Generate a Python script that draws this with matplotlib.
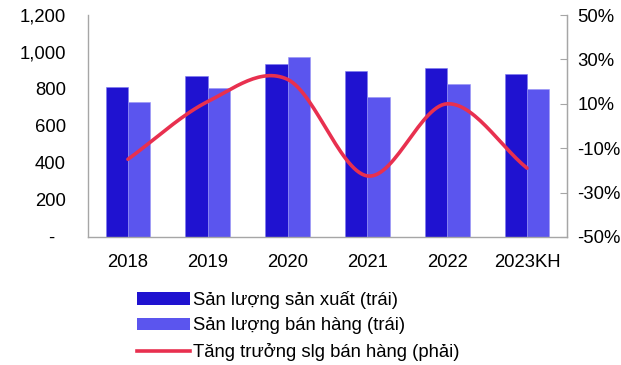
import numpy as np
import matplotlib
matplotlib.use("Agg")
import matplotlib.pyplot as plt
from matplotlib.patches import Patch
from matplotlib.lines import Line2D

categories = ["2018", "2019", "2020", "2021", "2022", "2023KH"]
san_xuat = [811, 870, 935, 897, 914, 881]
ban_hang = [730, 805, 973, 757, 827, 800]
tang_truong = [-15, 11, 21, -22.5, 10, -19]

left_ticks = [0, 200, 400, 600, 800, 1000, 1200]
left_labels = ["-\u00a0\u00a0", "200", "400", "600", "800", "1,000", "1,200"]
right_ticks = [-50, -30, -10, 10, 30, 50]
right_labels = ["-50%", "-30%", "-10%", "10%", "30%", "50%"]

FS = 13.3
plt.rcParams['font.family'] = ['Liberation Sans', 'DejaVu Sans']
plt.rcParams['font.size'] = FS

c_dark = "#1F12D0"
c_light = "#5B55EE"
c_line = "#E8304F"
gray = "#A6A6A6"

fig = plt.figure(figsize=(6.21, 3.65), dpi=100)
ax = fig.add_axes([0.1417, 0.3507, 0.7713, 0.6082])
x = np.arange(len(categories))
w = 0.28
ax.bar(x - w / 2, san_xuat, width=w, color=c_dark, edgecolor="#7D78F0", linewidth=0.4)
ax.bar(x + w / 2, ban_hang, width=w, color=c_light, edgecolor="#9995F5", linewidth=0.4)
ax.set_xlim(-0.5, len(categories) - 0.5)
ax.set_ylim(0, 1200)
ax.set_yticks(left_ticks)
ax.set_yticklabels(left_labels)
ax.set_xticks(x)
ax.set_xticklabels(categories)
ax.tick_params(axis='x', length=0, pad=12)
ax.tick_params(axis='y', length=0, pad=16)
ax.spines["top"].set_visible(False)
for s in ["left", "bottom", "right"]:
    ax.spines[s].set_color(gray)
    ax.spines[s].set_linewidth(1.0)

ax2 = ax.twinx()
ax2.set_ylim(-50, 50)
ax2.set_yticks(right_ticks)
ax2.set_yticklabels(right_labels)
ax2.tick_params(axis='y', direction='in', length=5, color=gray, pad=7.5)
for s in ["top", "left", "bottom"]:
    ax2.spines[s].set_visible(False)
ax2.spines["right"].set_color(gray)

# Smooth (Catmull-Rom) rendering through the data points
def catmull(xs, ys, n=30):
    xs = np.asarray(xs, float); ys = np.asarray(ys, float)
    px = np.concatenate([[2 * xs[0] - xs[1]], xs, [2 * xs[-1] - xs[-2]]])
    py = np.concatenate([[2 * ys[0] - ys[1]], ys, [2 * ys[-1] - ys[-2]]])
    ox, oy = [], []
    for i in range(1, len(px) - 2):
        t = np.linspace(0, 1, n, endpoint=(i == len(px) - 3))
        for arr, out in ((px, ox), (py, oy)):
            p0, p1, p2, p3 = arr[i - 1], arr[i], arr[i + 1], arr[i + 2]
            out.extend(0.5 * ((2 * p1) + (-p0 + p2) * t + (2 * p0 - 5 * p1 + 4 * p2 - p3) * t ** 2
                              + (-p0 + 3 * p1 - 3 * p2 + p3) * t ** 3))
    return np.array(ox), np.array(oy)

sx, sy = catmull(x, tang_truong)
ax2.plot(sx, sy, color=c_line, linewidth=2.6, solid_capstyle='round')

handles = [Patch(facecolor=c_dark), Patch(facecolor=c_light),
           Line2D([0], [0], color=c_line, linewidth=2.6)]
labels = ["Sản lượng sản xuất (trái)", "Sản lượng bán hàng (trái)",
          "Tăng trưởng slg bán hàng (phải)"]
fig.legend(handles, labels, loc='upper left', bbox_to_anchor=(137 / 621, 1 - 291 / 365),
           frameon=False, borderpad=0, borderaxespad=0, handlelength=2.85, handleheight=0.7,
           handletextpad=0.2, labelspacing=0.46, fontsize=FS)

fig.savefig("out.png", dpi=100)
